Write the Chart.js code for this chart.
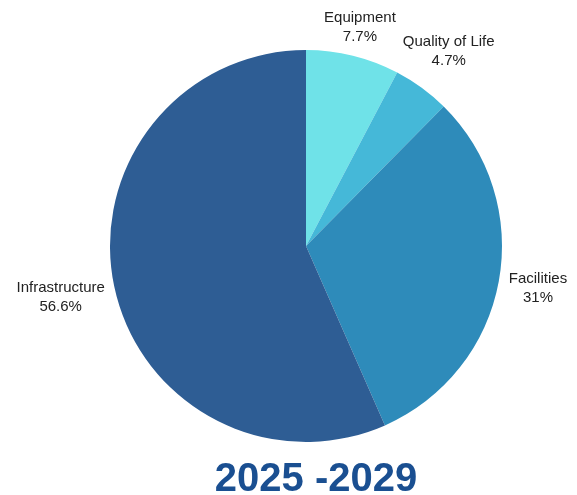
<!DOCTYPE html>
<html>
<head>
<meta charset="utf-8">
<script src="https://cdn.jsdelivr.net/npm/chart.js@4"></script>
<style>
  html, body { margin: 0; padding: 0; background: #fff; }
  #wrap { width: 577px; height: 495px; }
</style>
</head>
<body>
<div id="wrap"><canvas id="pieChart" width="577" height="495"></canvas></div>
<script>
// chart data
const categories = ['Equipment', 'Quality of Life', 'Facilities', 'Infrastructure'];
const shares = [7.7, 4.7, 31, 56.6];
const sliceColors = ['#6fe2e8', '#45b8d8', '#2e8bba', '#2e5d94'];
const chartTitle = '2025 -2029';

// draws "name / pct%" outside each slice
const outsideLabels = {
  id: 'outsideLabels',
  afterDatasetsDraw(chart) {
    const ctx = chart.ctx;
    const meta = chart.getDatasetMeta(0);
    ctx.save();
    ctx.font = '15px "Liberation Sans", Arial, sans-serif';
    ctx.fillStyle = '#222';
    ctx.textAlign = 'center';
    ctx.textBaseline = 'middle';
    const lineH = 19;
    meta.data.forEach((arc, i) => {
      const p = arc.getProps(['x', 'y', 'startAngle', 'endAngle', 'outerRadius'], true);
      const mid = (p.startAngle + p.endAngle) / 2;
      const lines = [categories[i], shares[i] + '%'];
      const w = Math.max(...lines.map(l => ctx.measureText(l).width));
      const dist = p.outerRadius + 9 + (w / 2) * Math.abs(Math.cos(mid)) + 12 * Math.abs(Math.sin(mid));
      const cx = p.x + Math.cos(mid) * dist;
      const cy = p.y + Math.sin(mid) * dist;
      lines.forEach((l, k) => {
        ctx.fillText(l, cx, cy + (k - (lines.length - 1) / 2) * lineH);
      });
    });
    ctx.restore();
  }
};

// big title under the pie
const bottomTitle = {
  id: 'bottomTitle',
  afterDraw(chart) {
    const ctx = chart.ctx;
    ctx.save();
    ctx.font = 'bold 40px "Liberation Sans", Arial, sans-serif';
    ctx.fillStyle = '#1a4f91';
    ctx.textAlign = 'center';
    ctx.textBaseline = 'alphabetic';
    ctx.fillText(chartTitle, 316, 491);
    ctx.restore();
  }
};

new Chart(document.getElementById('pieChart'), {
  type: 'pie',
  data: {
    labels: categories,
    datasets: [{
      data: shares,
      backgroundColor: sliceColors,
      borderWidth: 0
    }]
  },
  options: {
    responsive: false,
    animation: false,
    layout: { padding: { top: 50, bottom: 53, left: 110, right: 75 } },
    plugins: {
      legend: { display: false },
      tooltip: { enabled: false },
      title: { display: false }
    }
  },
  plugins: [outsideLabels, bottomTitle]
});
</script>
</body>
</html>
